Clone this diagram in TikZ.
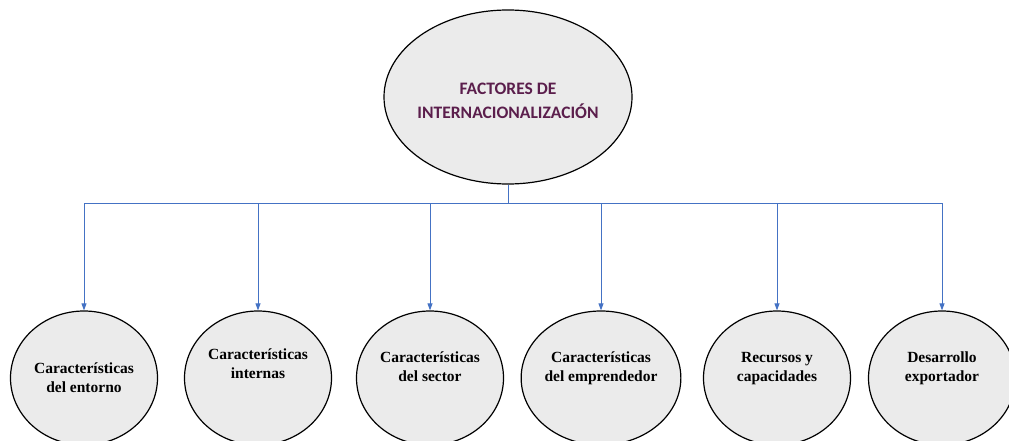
\documentclass[tikz,border=0pt]{standalone}
\usepackage{fontspec}
\setmainfont{Liberation Serif}
\newfontfamily\titlefont{Carlito}
\usetikzlibrary{shapes.geometric,arrows.meta}
\definecolor{ovalgray}{HTML}{EBEBEB}
\definecolor{linkblue}{HTML}{4472C4}
\definecolor{titlepurple}{HTML}{5B1E4C}
\begin{document}
\begin{tikzpicture}[x=1pt,y=-1pt,>={Triangle[length=7pt,width=5pt]},
  oval/.style={draw,ellipse,fill=ovalgray,line width=1.2pt,inner sep=0pt,align=center},
  factor/.style={oval,minimum width=147pt,minimum height=134pt,font=\fontsize{15.5}{19}\selectfont\bfseries},
  link/.style={draw=linkblue,line width=0.9pt}]
\useasboundingbox (0,0) rectangle (1009,441);
\node[oval,inner sep=-30pt,minimum width=248pt,minimum height=174pt,text=titlepurple,
  font=\titlefont\fontsize{17.5}{24}\selectfont\bfseries] (factores) at (508,97)
  {\rule{0pt}{19pt}FACTORES DE\\INTERNACIONALIZACIÓN};
\node[factor] (entorno) at (84,378) {Características\\del entorno};
\node[factor] (internas) at (258,378) {Características\\internas\\[10pt]};
\node[factor] (sector) at (430,378) {Características\\del sector\\[4pt]};
\node[factor] (emprendedor) at (601,378) {Características\\del emprendedor\\[4pt]};
\node[factor] (recursos) at (777,378) {Recursos y\\capacidades\\[4pt]};
\node[factor] (desarrollo) at (942,378) {Desarrollo\\exportador\\[4pt]};
\coordinate (bus) at (508,203);
\draw[link] (factores) -- (bus);
\draw[link,->] (bus) -| (entorno);
\draw[link,->] (bus) -| (internas);
\draw[link,->] (bus) -| (sector);
\draw[link,->] (bus) -| (emprendedor);
\draw[link,->] (bus) -| (recursos);
\draw[link,->] (bus) -| (desarrollo);
\end{tikzpicture}
\end{document}
